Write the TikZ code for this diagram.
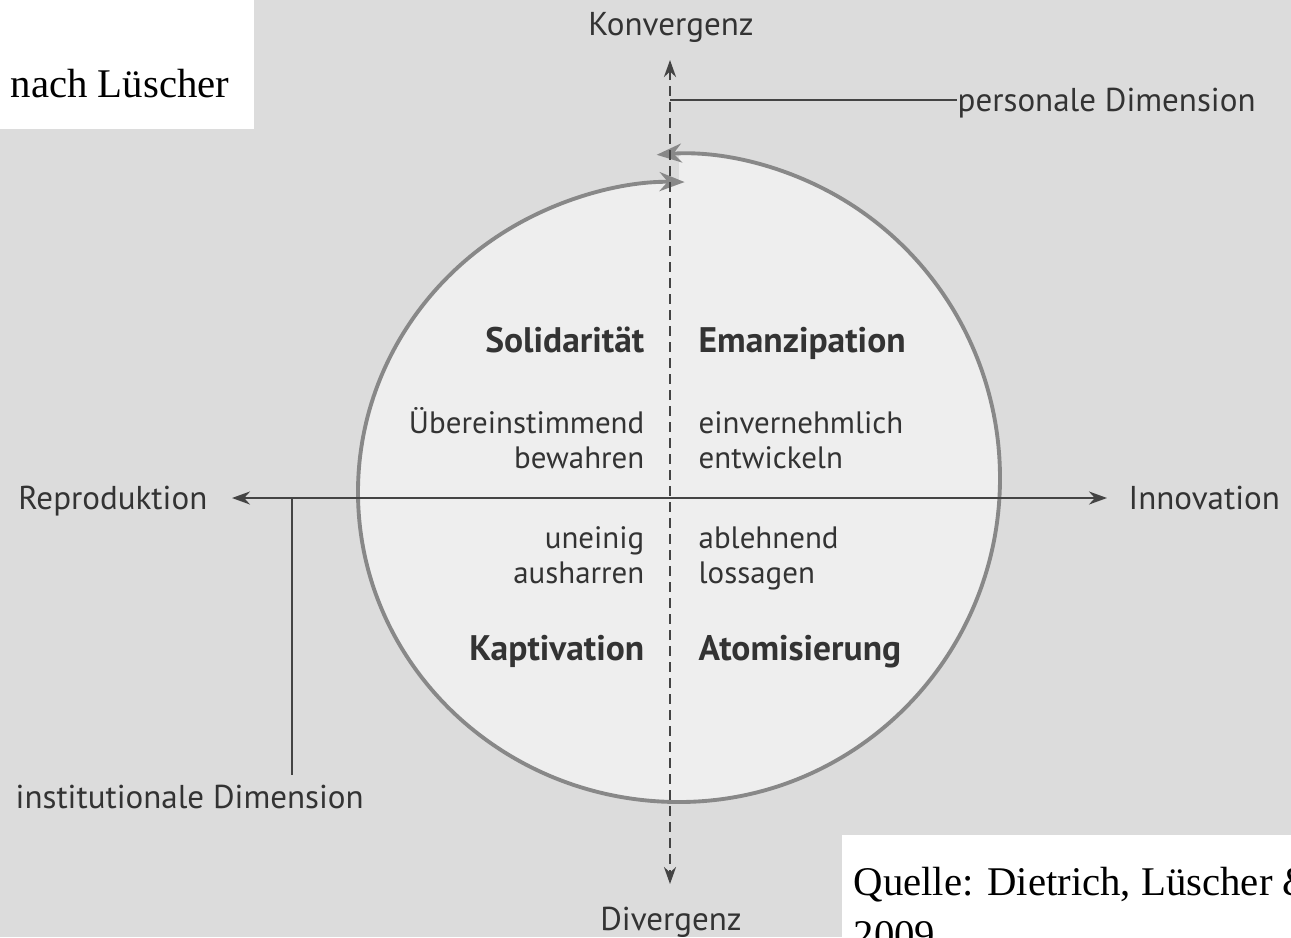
\documentclass[tikz,border=0pt]{standalone}
\usepackage{fontspec}
\setmainfont{Liberation Serif}
\setsansfont{PT Sans}
\usetikzlibrary{arrows.meta}
\definecolor{bg}{HTML}{DCDCDC}
\definecolor{disc}{HTML}{EEEEEE}
\definecolor{ring}{HTML}{888888}
\definecolor{ink}{HTML}{333333}
\definecolor{axis}{HTML}{444444}
\tikzset{
  ax/.style={draw=axis, line width=0.65pt, {Stealth[length=1.8mm,width=1.3mm]}-{Stealth[length=1.8mm,width=1.3mm]}},
  vax/.style={draw=axis, line width=0.75pt, dash pattern=on 1mm off 0.6mm, {Stealth[length=1.7mm,width=1.2mm]}-{Stealth[length=1.7mm,width=1.2mm]}},
  ring/.style={draw=ring, line width=1.1pt, line cap=round, -{Stealth[length=2.5mm,width=1.9mm]}},
  lead/.style={draw=axis, line width=0.65pt},
  lab/.style={text=ink, font=\sffamily\fontsize{9.4}{11}\selectfont, inner sep=0pt},
  head/.style={text=ink, font=\sffamily\bfseries\fontsize{10.1}{11}\selectfont, inner sep=0pt},
  pair/.style={text=ink, font=\sffamily\fontsize{8.8}{10}\selectfont, inner sep=0pt},
  note/.style={text=black, font=\fontsize{11.6}{15}\selectfont, inner sep=0pt, align=left},
}
\begin{document}
\begin{tikzpicture}
  \useasboundingbox (-6.70,-4.39) rectangle (6.21,4.98);
  \fill[bg] (-6.70,-4.39) rectangle (6.21,4.98);
  % white boxes
  \fill[white] (-6.70,3.69) rectangle (-4.16,4.98);
  \fill[white] (1.72,-4.39) rectangle (6.21,-3.37);
  \node[note, anchor=base west] (nach) at (-6.60,4.01) {nach Lüscher};
  \node[note, anchor=base west] (quelle) at (1.83,-4.50) {Quelle: Dietrich, Lüscher \& Müller\\2009};
  % disc
  \fill[disc] (0.09,-3.04) arc[start angle=-90, end angle=-270, x radius=3.21, y radius=3.10]
    -- (0.09,3.44) arc[start angle=90, end angle=-90, x radius=3.21, y radius=3.24] -- cycle;
  \draw[ring] (0.09,-3.04) arc[start angle=-90, end angle=-271, x radius=3.21, y radius=3.10];
  \draw[ring] (0.09,-3.04) arc[start angle=-90, end angle=94, x radius=3.21, y radius=3.24];
  % axis labels
  \node[lab, anchor=base] (konv) at (0.01,4.63) {Konvergenz};
  \node[lab, anchor=base] (div) at (0.01,-4.32) {Divergenz};
  \node[lab, anchor=base east] (repro) at (-4.62,-0.11) {Reproduktion};
  \node[lab, anchor=base west] (innov) at (4.58,-0.11) {Innovation};
  \node[lab, anchor=base west] (pers) at (2.87,3.87) {personale Dimension};
  \node[lab, anchor=base west] (inst) at (-6.55,-3.10) {institutionale Dimension};
  % axes
  \draw[ax, shorten <=0.24cm, shorten >=0.21cm] (repro.east |- 0,0) -- (innov.west |- 0,0);
  \draw[vax, shorten <=0.12cm, shorten >=0.1cm] (0,4.5) -- (0,-3.96);
  \coordinate (p0) at (0,3.98);
  \coordinate (i0) at (-3.78,0);
  \coordinate (i1) at (-3.78,-2.77);
  \draw[lead] (p0) -- (pers.west |- p0);
  \draw[lead] (i0) -- (i1);
  % quadrants
  \node[head, anchor=base east] (sol) at (-0.25,1.46) {Solidarität};
  \node[head, anchor=base west] (eman) at (0.28,1.46) {Emanzipation};
  \node[head, anchor=base east] (kapt) at (-0.25,-1.62) {Kaptivation};
  \node[head, anchor=base west] (atom) at (0.28,-1.62) {Atomisierung};
  \node[pair, anchor=base east] (ueb) at (-0.25,0.65) {Übereinstimmend};
  \node[pair, anchor=base east] (bew) at (-0.25,0.30) {bewahren};
  \node[pair, anchor=base west] (einv) at (0.28,0.65) {einvernehmlich};
  \node[pair, anchor=base west] (entw) at (0.28,0.30) {entwickeln};
  \node[pair, anchor=base east] (unei) at (-0.25,-0.50) {uneinig};
  \node[pair, anchor=base east] (aush) at (-0.25,-0.85) {ausharren};
  \node[pair, anchor=base west] (able) at (0.28,-0.50) {ablehnend};
  \node[pair, anchor=base west] (loss) at (0.28,-0.85) {lossagen};
\end{tikzpicture}
\end{document}
